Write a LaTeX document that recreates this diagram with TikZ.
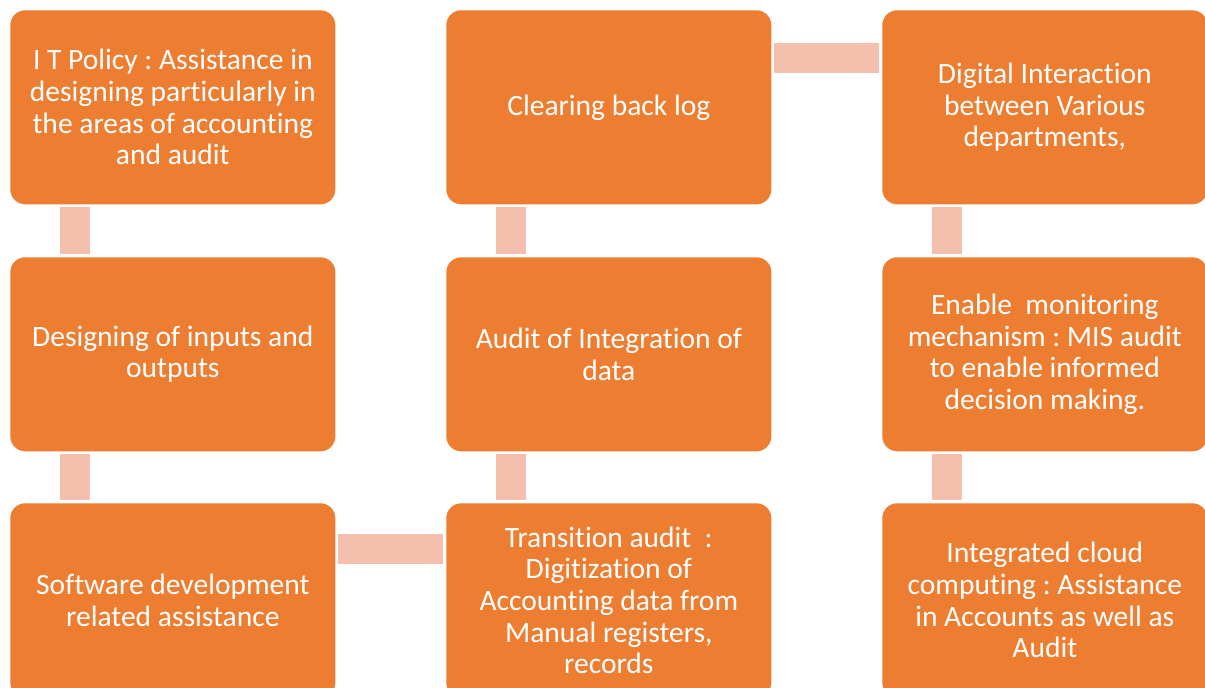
\documentclass[tikz,border=0pt]{standalone}
\usepackage{fontspec}
\setmainfont{Carlito}[Ligatures = NoCommon]
\usepackage{tikz}
\frenchspacing

\definecolor{boxorange}{HTML}{ED7D31}
\definecolor{linkpink}{HTML}{F4BFAC}

\tikzset{
	box/.style = {anchor = north west, fill = boxorange, text = white, rounded corners = 0.375cm,
		minimum width = 8.125cm, minimum height = 4.85cm, inner sep = 0pt, align = center,
		font = \fontsize{21}{22.5}\selectfont},
	link/.style = {draw = linkpink, line width = 0.75cm, shorten <= 0.07cm, shorten >= 0.07cm}
}

\begin{document}
\begin{tikzpicture}[x = 0.025cm, y = -0.025cm]

	\clip (0, 0) rectangle (1205, 688); % Área visível

	%%% COLUNA ESQUERDA %%%

	\node[box] (itpolicy) at ( 10,  10) {I T Policy : Assistance in\\designing particularly in\\the areas of accounting\\and audit};
	\node[box] (designio) at ( 10, 257) {Designing of inputs and\\outputs};
	\node[box] (softdev)  at ( 10, 503) {Software development\\related assistance};

	%%% COLUNA DO MEIO %%%

	\node[box] (backlog)    at (446,  10) {Clearing back log};
	\node[box] (integaudit) at (446, 257) {Audit of Integration of\\data};
	\node[box] (transaudit) at (446, 503) {Transition audit~~:\\Digitization of\\Accounting data from\\Manual registers,\\records};

	%%% COLUNA DIREITA %%%

	\node[box] (digital) at (882,  10) {Digital Interaction\\between Various\\departments,};
	\node[box] (monitor) at (882, 257) {Enable~~monitoring\\mechanism : MIS audit\\to enable informed\\decision making.};
	\node[box] (cloud)   at (882, 503) {Integrated cloud\\computing : Assistance\\in Accounts as well as\\Audit};

	%%% LIGAÇÕES %%%

	\draw[link] ([xshift = 1.625cm]itpolicy.south west) -- ([xshift = 1.625cm]designio.north west);
	\draw[link] ([xshift = 1.625cm]designio.south west) -- ([xshift = 1.625cm]softdev.north west);
	\draw[link] ([yshift = -1.15cm]softdev.north east) -- ([yshift = -1.15cm]transaudit.north west);
	\draw[link] ([xshift = 1.625cm]transaudit.north west) -- ([xshift = 1.625cm]integaudit.south west);
	\draw[link] ([xshift = 1.625cm]integaudit.north west) -- ([xshift = 1.625cm]backlog.south west);
	\draw[link] ([yshift = -1.2cm]backlog.north east) -- ([yshift = -1.2cm]digital.north west);
	\draw[link] ([xshift = 1.625cm]digital.south west) -- ([xshift = 1.625cm]monitor.north west);
	\draw[link] ([xshift = 1.625cm]monitor.south west) -- ([xshift = 1.625cm]cloud.north west);

\end{tikzpicture}
\end{document}
